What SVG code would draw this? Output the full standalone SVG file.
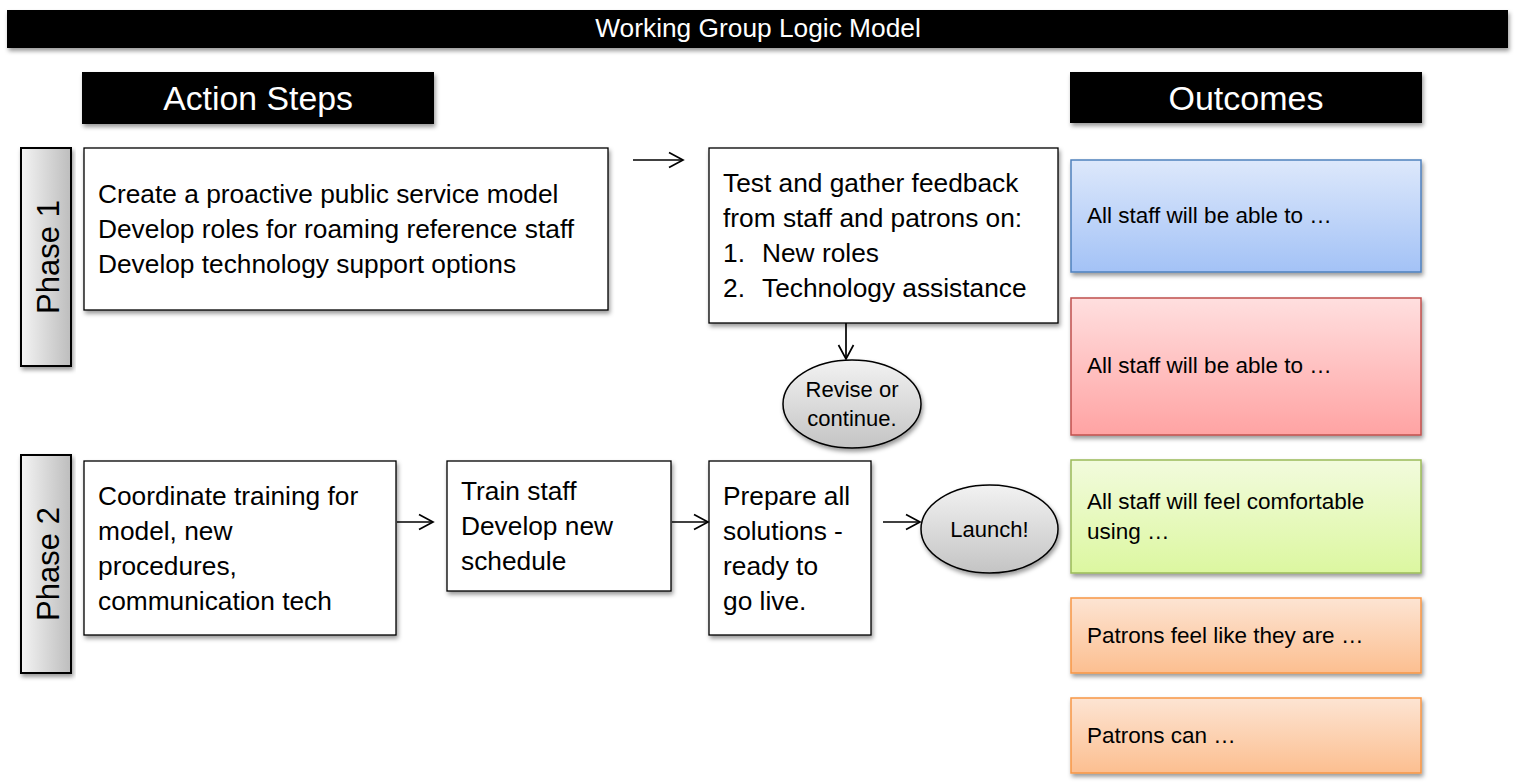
<svg xmlns="http://www.w3.org/2000/svg" width="1516" height="784" viewBox="0 0 1516 784">
<defs>
<style>
text{font-family:"Liberation Sans",Arial,sans-serif;fill:#000}
.hdr{fill:#000}
.hdrt{fill:#fff;text-anchor:middle}
.box{fill:#fff;stroke:#000;stroke-width:1.3}
.bt{font-size:26.3px}
.ot{font-size:22.5px}
.el{fill:url(#gEl);stroke:#000;stroke-width:1.5}
.et{font-size:22px;text-anchor:middle}
.ph{fill:url(#gPh);stroke:#000;stroke-width:2}
.pt{font-size:31px;text-anchor:middle}
.con{stroke:#000;stroke-width:1.7;fill:none;marker-end:url(#arr)}
</style>
<filter id="sh" x="-10%" y="-10%" width="120%" height="130%">
<feDropShadow dx="1.5" dy="3" stdDeviation="2" flood-color="#000" flood-opacity="0.4"/>
</filter>
<linearGradient id="gPh" x1="0" y1="0" x2="1" y2="0">
<stop offset="0" stop-color="#f4f4f4"/><stop offset="1" stop-color="#bdbdbd"/>
</linearGradient>
<linearGradient id="gEl" x1="0" y1="0" x2="0" y2="1">
<stop offset="0" stop-color="#f2f2f2"/><stop offset="1" stop-color="#c4c4c4"/>
</linearGradient>
<linearGradient id="gB" x1="0" y1="0" x2="0" y2="1">
<stop offset="0" stop-color="#dde8fb"/><stop offset="1" stop-color="#a3c2f6"/>
</linearGradient>
<linearGradient id="gR" x1="0" y1="0" x2="0" y2="1">
<stop offset="0" stop-color="#ffdfdf"/><stop offset="1" stop-color="#ffa3a3"/>
</linearGradient>
<linearGradient id="gG" x1="0" y1="0" x2="0" y2="1">
<stop offset="0" stop-color="#f2fbdd"/><stop offset="1" stop-color="#dcf7a0"/>
</linearGradient>
<linearGradient id="gO" x1="0" y1="0" x2="0" y2="1">
<stop offset="0" stop-color="#fde4d3"/><stop offset="1" stop-color="#fcbf90"/>
</linearGradient>
<marker id="arr" markerWidth="18" markerHeight="20" refX="15" refY="9" orient="auto" markerUnits="userSpaceOnUse">
<path d="M1,1.5 L15,9 L1,16.5" fill="none" stroke="#000" stroke-width="1.7"/>
</marker>
</defs>
<rect width="1516" height="784" fill="#fff"/>

<g id="title">
<rect class="hdr" x="7" y="10" width="1501" height="38" filter="url(#sh)"/>
<text class="hdrt" x="758" y="37" font-size="26.3">Working Group Logic Model</text>
</g>
<g id="hdr-action">
<rect class="hdr" x="82" y="72" width="352" height="52" filter="url(#sh)"/>
<text class="hdrt" x="258" y="110" font-size="33.8">Action Steps</text>
</g>
<g id="hdr-outcomes">
<rect class="hdr" x="1070" y="72" width="352" height="51" filter="url(#sh)"/>
<text class="hdrt" x="1246" y="110" font-size="34">Outcomes</text>
</g>

<g id="phase1">
<rect class="ph" x="21" y="148" width="50" height="218" filter="url(#sh)"/>
<text class="pt" transform="translate(59,257) rotate(-90)">Phase 1</text>
</g>
<g id="phase2">
<rect class="ph" x="21" y="455" width="50" height="218" filter="url(#sh)"/>
<text class="pt" transform="translate(59,564) rotate(-90)">Phase 2</text>
</g>

<g id="p1-steps">
<rect class="box" x="84" y="148" width="524" height="162" filter="url(#sh)"/>
<text class="bt" x="98" y="203">Create a proactive public service model</text>
<text class="bt" x="98" y="238">Develop roles for roaming reference staff</text>
<text class="bt" x="98" y="273">Develop technology support options</text>
</g>
<g id="p1-test">
<rect class="box" x="709" y="148" width="349" height="175" filter="url(#sh)"/>
<text class="bt" x="723" y="192">Test and gather feedback</text>
<text class="bt" x="723" y="227">from staff and patrons on:</text>
<text class="bt" x="723" y="262">1.</text><text class="bt" x="762" y="262">New roles</text>
<text class="bt" x="723" y="297">2.</text><text class="bt" x="762" y="297">Technology assistance</text>
</g>
<g id="revise">
<ellipse class="el" cx="852" cy="404" rx="69" ry="44" filter="url(#sh)"/>
<text class="et" x="852" y="397">Revise or</text>
<text class="et" x="852" y="426">continue.</text>
</g>

<g id="p2-coord">
<rect class="box" x="84" y="461" width="312" height="174" filter="url(#sh)"/>
<text class="bt" x="98" y="505">Coordinate training for</text>
<text class="bt" x="98" y="540">model, new</text>
<text class="bt" x="98" y="575">procedures,</text>
<text class="bt" x="98" y="610">communication tech</text>
</g>
<g id="p2-train">
<rect class="box" x="447" y="461" width="224" height="130" filter="url(#sh)"/>
<text class="bt" x="461" y="500">Train staff</text>
<text class="bt" x="461" y="535">Develop new</text>
<text class="bt" x="461" y="570">schedule</text>
</g>
<g id="p2-prepare">
<rect class="box" x="709" y="461" width="162" height="174" filter="url(#sh)"/>
<text class="bt" x="723" y="505">Prepare all</text>
<text class="bt" x="723" y="540">solutions -</text>
<text class="bt" x="723" y="575">ready to</text>
<text class="bt" x="723" y="610">go live.</text>
</g>
<g id="launch">
<ellipse class="el" cx="989.5" cy="529" rx="68.5" ry="44" filter="url(#sh)"/>
<text class="et" x="989.5" y="537">Launch!</text>
</g>

<g id="out1">
<rect x="1071" y="160" width="350" height="112" fill="url(#gB)" stroke="#4f81bd" stroke-width="1.5" filter="url(#sh)"/>
<text class="ot" x="1087" y="223">All staff will be able to …</text>
</g>
<g id="out2">
<rect x="1071" y="298" width="350" height="137" fill="url(#gR)" stroke="#c0504d" stroke-width="1.5" filter="url(#sh)"/>
<text class="ot" x="1087" y="373">All staff will be able to …</text>
</g>
<g id="out3">
<rect x="1071" y="460" width="350" height="113" fill="url(#gG)" stroke="#9bbb59" stroke-width="1.5" filter="url(#sh)"/>
<text class="ot" x="1087" y="509">All staff will feel comfortable</text>
<text class="ot" x="1087" y="539">using …</text>
</g>
<g id="out4">
<rect x="1071" y="598" width="350" height="75" fill="url(#gO)" stroke="#f79646" stroke-width="1.5" filter="url(#sh)"/>
<text class="ot" x="1087" y="643">Patrons feel like they are …</text>
</g>
<g id="out5">
<rect x="1071" y="698" width="350" height="75" fill="url(#gO)" stroke="#f79646" stroke-width="1.5" filter="url(#sh)"/>
<text class="ot" x="1087" y="743">Patrons can …</text>
</g>

<g id="connectors">
<line class="con" x1="633" y1="160" x2="683" y2="160"/>
<line class="con" x1="846" y1="323" x2="846" y2="359"/>
<line class="con" x1="397" y1="522" x2="433" y2="522"/>
<line class="con" x1="672" y1="522" x2="708" y2="522"/>
<line class="con" x1="883" y1="522" x2="920" y2="522"/>
</g>
</svg>
